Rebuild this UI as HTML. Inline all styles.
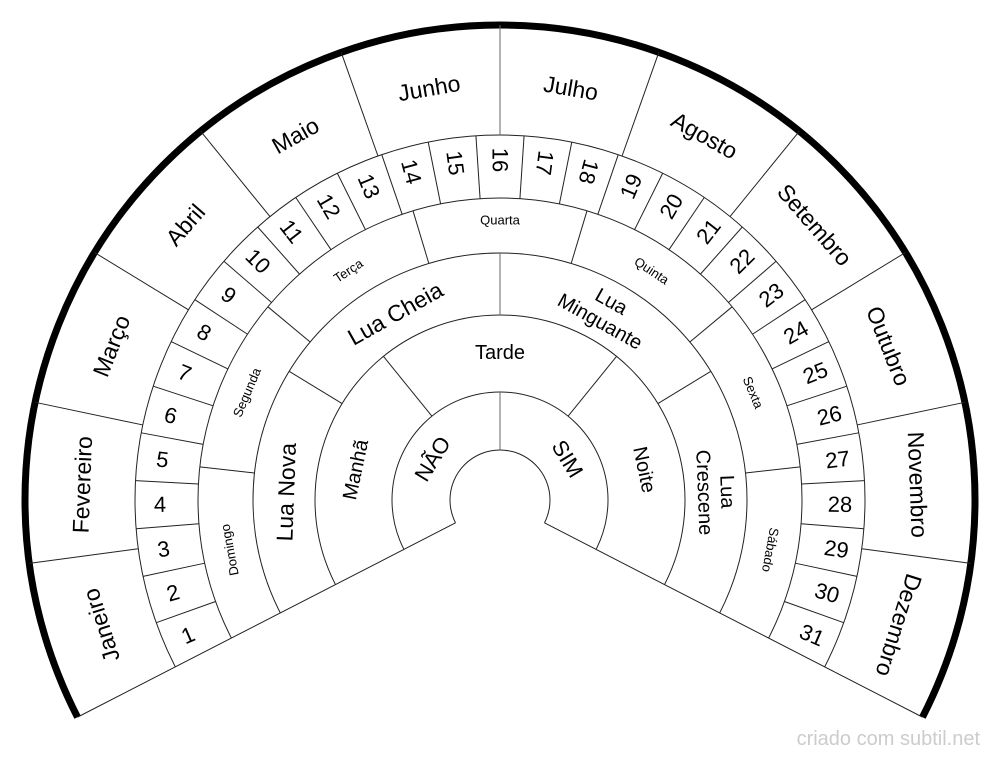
<!DOCTYPE html>
<html><head><meta charset="utf-8"><style>
html,body{margin:0;padding:0;background:#fff;width:1000px;height:759px;overflow:hidden;}
svg{display:block;}
text{font-family:"Liberation Sans",sans-serif;fill:#000;}
</style></head><body>
<svg width="1000" height="759" viewBox="0 0 1000 759" xmlns="http://www.w3.org/2000/svg">
<defs>
<clipPath id="fan"><polygon points="500,500 -389,957 -389,-500 1389,-500 1389,957"/></clipPath>
</defs>
<g clip-path="url(#fan)" fill="none" stroke="#222" stroke-width="1">
<circle cx="500" cy="500" r="50"/>
<circle cx="500" cy="500" r="108"/>
<circle cx="500" cy="500" r="185"/>
<circle cx="500" cy="500" r="247"/>
<circle cx="500" cy="500" r="302"/>
<circle cx="500" cy="500" r="365"/>
<circle cx="500" cy="500" r="475" stroke="#000" stroke-width="7"/>
</g>
<g stroke="#222" stroke-width="1">
<line x1="500" y1="450" x2="500" y2="25" transform="rotate(-117.2 500 500)"/>
<line x1="500" y1="450" x2="500" y2="25" transform="rotate(117.2 500 500)"/>
<line x1="500" y1="450" x2="500" y2="392" stroke="#666"/>
<line x1="500" y1="392" x2="500" y2="315" transform="rotate(-39.067 500 500)"/>
<line x1="500" y1="392" x2="500" y2="315" transform="rotate(39.067 500 500)"/>
<line x1="500" y1="315" x2="500" y2="253" transform="rotate(-58.6 500 500)"/>
<line x1="500" y1="315" x2="500" y2="253" stroke="#666"/>
<line x1="500" y1="315" x2="500" y2="253" transform="rotate(58.6 500 500)"/>
<line x1="500" y1="253" x2="500" y2="198" transform="rotate(-83.714 500 500)"/>
<line x1="500" y1="253" x2="500" y2="198" transform="rotate(-50.229 500 500)"/>
<line x1="500" y1="253" x2="500" y2="198" transform="rotate(-16.743 500 500)"/>
<line x1="500" y1="253" x2="500" y2="198" transform="rotate(16.743 500 500)"/>
<line x1="500" y1="253" x2="500" y2="198" transform="rotate(50.229 500 500)"/>
<line x1="500" y1="253" x2="500" y2="198" transform="rotate(83.714 500 500)"/>
<line x1="500" y1="198" x2="500" y2="135" transform="rotate(-109.639 500 500)"/>
<line x1="500" y1="198" x2="500" y2="135" transform="rotate(-102.077 500 500)"/>
<line x1="500" y1="198" x2="500" y2="135" transform="rotate(-94.516 500 500)"/>
<line x1="500" y1="198" x2="500" y2="135" transform="rotate(-86.955 500 500)"/>
<line x1="500" y1="198" x2="500" y2="135" transform="rotate(-79.394 500 500)"/>
<line x1="500" y1="198" x2="500" y2="135" transform="rotate(-71.832 500 500)"/>
<line x1="500" y1="198" x2="500" y2="135" transform="rotate(-64.271 500 500)"/>
<line x1="500" y1="198" x2="500" y2="135" transform="rotate(-56.710 500 500)"/>
<line x1="500" y1="198" x2="500" y2="135" transform="rotate(-49.148 500 500)"/>
<line x1="500" y1="198" x2="500" y2="135" transform="rotate(-41.587 500 500)"/>
<line x1="500" y1="198" x2="500" y2="135" transform="rotate(-34.026 500 500)"/>
<line x1="500" y1="198" x2="500" y2="135" transform="rotate(-26.465 500 500)"/>
<line x1="500" y1="198" x2="500" y2="135" transform="rotate(-18.903 500 500)"/>
<line x1="500" y1="198" x2="500" y2="135" transform="rotate(-11.342 500 500)"/>
<line x1="500" y1="198" x2="500" y2="135" transform="rotate(-3.781 500 500)"/>
<line x1="500" y1="198" x2="500" y2="135" transform="rotate(3.781 500 500)"/>
<line x1="500" y1="198" x2="500" y2="135" transform="rotate(11.342 500 500)"/>
<line x1="500" y1="198" x2="500" y2="135" transform="rotate(18.903 500 500)"/>
<line x1="500" y1="198" x2="500" y2="135" transform="rotate(26.465 500 500)"/>
<line x1="500" y1="198" x2="500" y2="135" transform="rotate(34.026 500 500)"/>
<line x1="500" y1="198" x2="500" y2="135" transform="rotate(41.587 500 500)"/>
<line x1="500" y1="198" x2="500" y2="135" transform="rotate(49.148 500 500)"/>
<line x1="500" y1="198" x2="500" y2="135" transform="rotate(56.710 500 500)"/>
<line x1="500" y1="198" x2="500" y2="135" transform="rotate(64.271 500 500)"/>
<line x1="500" y1="198" x2="500" y2="135" transform="rotate(71.832 500 500)"/>
<line x1="500" y1="198" x2="500" y2="135" transform="rotate(79.394 500 500)"/>
<line x1="500" y1="198" x2="500" y2="135" transform="rotate(86.955 500 500)"/>
<line x1="500" y1="198" x2="500" y2="135" transform="rotate(94.516 500 500)"/>
<line x1="500" y1="198" x2="500" y2="135" transform="rotate(102.077 500 500)"/>
<line x1="500" y1="198" x2="500" y2="135" transform="rotate(109.639 500 500)"/>
<line x1="500" y1="135" x2="500" y2="25" transform="rotate(-97.667 500 500)"/>
<line x1="500" y1="135" x2="500" y2="25" transform="rotate(-78.133 500 500)"/>
<line x1="500" y1="135" x2="500" y2="25" transform="rotate(-58.6 500 500)"/>
<line x1="500" y1="135" x2="500" y2="25" transform="rotate(-39.067 500 500)"/>
<line x1="500" y1="135" x2="500" y2="25" transform="rotate(-19.533 500 500)"/>
<line x1="500" y1="135" x2="500" y2="25" stroke="#666"/>
<line x1="500" y1="135" x2="500" y2="25" transform="rotate(19.533 500 500)"/>
<line x1="500" y1="135" x2="500" y2="25" transform="rotate(39.067 500 500)"/>
<line x1="500" y1="135" x2="500" y2="25" transform="rotate(58.6 500 500)"/>
<line x1="500" y1="135" x2="500" y2="25" transform="rotate(78.133 500 500)"/>
<line x1="500" y1="135" x2="500" y2="25" transform="rotate(97.667 500 500)"/>
</g>
<g text-anchor="middle" dominant-baseline="central">
<g font-size="23">
<text x="500" y="82" transform="rotate(-107.433 500 500)">Janeiro</text>
<text x="500" y="82" transform="rotate(-87.9 500 500)">Fevereiro</text>
<text x="500" y="82" transform="rotate(-68.367 500 500)">Março</text>
<text x="500" y="82" transform="rotate(-48.833 500 500)">Abril</text>
<text x="500" y="82" transform="rotate(-29.3 500 500)">Maio</text>
<text x="500" y="82" transform="rotate(-9.767 500 500)">Junho</text>
<text x="500" y="82" transform="rotate(9.767 500 500)">Julho</text>
<text x="500" y="82" transform="rotate(29.3 500 500)">Agosto</text>
<text x="500" y="82" transform="rotate(48.833 500 500)">Setembro</text>
<text x="500" y="82" transform="rotate(68.367 500 500)">Outubro</text>
<text x="500" y="82" transform="rotate(87.9 500 500)">Novembro</text>
<text x="500" y="82" transform="rotate(107.433 500 500)">Dezembro</text>
</g>
<g font-size="22">
<text transform="rotate(-113.42 500 500) translate(500 160) rotate(90)">1</text>
<text transform="rotate(-105.86 500 500) translate(500 160) rotate(90)">2</text>
<text transform="rotate(-98.30 500 500) translate(500 160) rotate(90)">3</text>
<text transform="rotate(-90.74 500 500) translate(500 160) rotate(90)">4</text>
<text transform="rotate(-83.17 500 500) translate(500 160) rotate(90)">5</text>
<text transform="rotate(-75.61 500 500) translate(500 160) rotate(90)">6</text>
<text transform="rotate(-68.05 500 500) translate(500 160) rotate(90)">7</text>
<text transform="rotate(-60.49 500 500) translate(500 160) rotate(90)">8</text>
<text transform="rotate(-52.93 500 500) translate(500 160) rotate(90)">9</text>
<text transform="rotate(-45.37 500 500) translate(500 160) rotate(90)">10</text>
<text transform="rotate(-37.81 500 500) translate(500 160) rotate(90)">11</text>
<text transform="rotate(-30.25 500 500) translate(500 160) rotate(90)">12</text>
<text transform="rotate(-22.68 500 500) translate(500 160) rotate(90)">13</text>
<text transform="rotate(-15.12 500 500) translate(500 160) rotate(90)">14</text>
<text transform="rotate(-7.56 500 500) translate(500 160) rotate(90)">15</text>
<text transform="rotate(0 500 500) translate(500 160) rotate(90)">16</text>
<text transform="rotate(7.56 500 500) translate(500 160) rotate(90)">17</text>
<text transform="rotate(15.12 500 500) translate(500 160) rotate(90)">18</text>
<text transform="rotate(22.68 500 500) translate(500 160) rotate(-90)">19</text>
<text transform="rotate(30.25 500 500) translate(500 160) rotate(-90)">20</text>
<text transform="rotate(37.81 500 500) translate(500 160) rotate(-90)">21</text>
<text transform="rotate(45.37 500 500) translate(500 160) rotate(-90)">22</text>
<text transform="rotate(52.93 500 500) translate(500 160) rotate(-90)">23</text>
<text transform="rotate(60.49 500 500) translate(500 160) rotate(-90)">24</text>
<text transform="rotate(68.05 500 500) translate(500 160) rotate(-90)">25</text>
<text transform="rotate(75.61 500 500) translate(500 160) rotate(-90)">26</text>
<text transform="rotate(83.17 500 500) translate(500 160) rotate(-90)">27</text>
<text transform="rotate(90.74 500 500) translate(500 160) rotate(-90)">28</text>
<text transform="rotate(98.30 500 500) translate(500 160) rotate(-90)">29</text>
<text transform="rotate(105.86 500 500) translate(500 160) rotate(-90)">30</text>
<text transform="rotate(113.42 500 500) translate(500 160) rotate(-90)">31</text>
</g>
<g font-size="13">
<text x="500" y="225" transform="rotate(-100.457 500 500)">Domingo</text>
<text x="500" y="225" transform="rotate(-66.971 500 500)">Segunda</text>
<text x="500" y="225" transform="rotate(-33.486 500 500)">Terça</text>
<text x="500" y="220" transform="rotate(0 500 500)">Quarta</text>
<text x="500" y="225" transform="rotate(33.486 500 500)">Quinta</text>
<text x="500" y="225" transform="rotate(66.971 500 500)">Sexta</text>
<text x="500" y="225" transform="rotate(100.457 500 500)">Sábado</text>
</g>
<g font-size="23">
<text x="500" y="286" transform="rotate(-87.9 500 500)">Lua Nova</text>
<text x="500" y="286" transform="rotate(-29.3 500 500)">Lua Cheia</text>
</g>
<g font-size="20">
<text transform="rotate(29.3 500 500)"><tspan x="500" y="273">Lua</tspan><tspan x="500" y="296">Minguante</tspan></text>
<text transform="rotate(87.9 500 500)"><tspan x="500" y="273">Lua</tspan><tspan x="500" y="296">Crescene</tspan></text>
</g>
<g font-size="20">
<text x="500" y="353" transform="rotate(-78.133 500 500)">Manhã</text>
<text x="500" y="353">Tarde</text>
<text x="500" y="353" transform="rotate(78.133 500 500)">Noite</text>
</g>
<g font-size="22">
<text x="500" y="421" transform="rotate(-58.6 500 500)">NÃO</text>
<text x="500" y="421" transform="rotate(58.6 500 500)">SIM</text>
</g>
</g>
<text x="980" y="745" font-size="20" text-anchor="end" style="fill:#cccccc">criado com subtil.net</text>
</svg>
</body></html>
